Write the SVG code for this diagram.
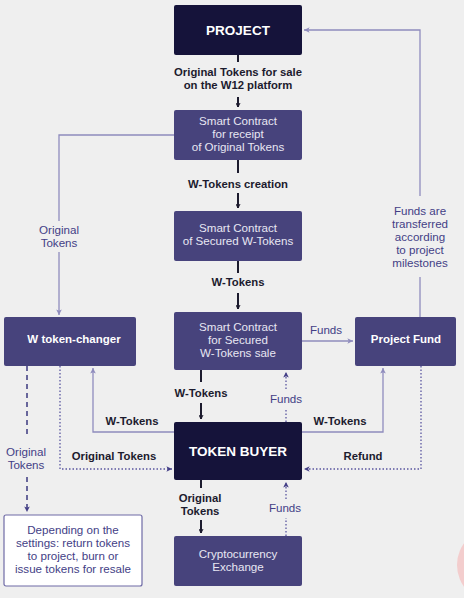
<svg xmlns="http://www.w3.org/2000/svg" width="464" height="598" viewBox="0 0 464 598">
<defs>
<style>
.bg{fill:#efefef}
.dark{fill:#15133a}
.box{fill:#47437c}
.white{fill:#ffffff;stroke:#6f6ba6;stroke-width:1.2}
text{font-family:"Liberation Sans",Arial,sans-serif;text-anchor:middle}
.tb{font-size:13.5px;font-weight:700;fill:#ffffff}
.tn{font-size:11.6px;fill:#e8e7f3}
.tnb{font-size:11.5px;font-weight:700;fill:#ffffff}
.lb{font-size:11.3px;font-weight:700;fill:#1c1b2e}
.lp{font-size:11.6px;fill:#433e86}
.cd{stroke:#1c1b2e;stroke-width:2;fill:none}
.cl{stroke:#8f8cbd;stroke-width:1.3;fill:none}
.cdot{stroke:#5a56a0;stroke-width:1.3;fill:none;stroke-dasharray:1.5 2}
.cdash{stroke:#3d3a80;stroke-width:1.5;fill:none;stroke-dasharray:5 4}
</style>
<marker id="ad" viewBox="0 0 10 10" refX="9" refY="5" markerWidth="5" markerHeight="5" orient="auto" markerUnits="userSpaceOnUse">
<path d="M1 1 L9 5 L1 9" fill="none" stroke="#1c1b2e" stroke-width="2"/>
</marker>
<marker id="al" viewBox="0 0 10 10" refX="9" refY="5" markerWidth="7" markerHeight="7" orient="auto" markerUnits="userSpaceOnUse">
<path d="M1 1 L9 5 L1 9 L3 5 Z" fill="#8f8cbd"/>
</marker>
<marker id="ap" viewBox="0 0 10 10" refX="9" refY="5" markerWidth="7" markerHeight="7" orient="auto" markerUnits="userSpaceOnUse">
<path d="M1 1 L9 5 L1 9 L3 5 Z" fill="#433e86"/>
</marker>
</defs>
<rect class="bg" x="0" y="0" width="464" height="598"/>
<circle cx="494" cy="565" r="37" fill="#f3cdcd"/>

<g id="connectors">
<path class="cd" d="M238 55 V62"/>
<path class="cd" d="M238 97 V107" marker-end="url(#ad)"/>
<path class="cd" d="M238 160 V173"/>
<path class="cd" d="M238 193 V208" marker-end="url(#ad)"/>
<path class="cd" d="M238 261 V273"/>
<path class="cd" d="M238 293 V309" marker-end="url(#ad)"/>
<path class="cd" d="M201 370 V382"/>
<path class="cd" d="M201 403 V419" marker-end="url(#ad)"/>
<path class="cd" d="M201 480 V488"/>
<path class="cd" d="M201 520 V533" marker-end="url(#ad)"/>
<path class="cl" d="M302 341 H353" marker-end="url(#al)"/>
<path class="cl" d="M174 135 H59 V221"/>
<path class="cl" d="M59 252 V315" marker-end="url(#al)"/>
<path class="cl" d="M420 317 V277"/>
<path class="cl" d="M420 196 V30 H304" marker-end="url(#al)"/>
<path class="cl" d="M174 432 H93 V368" marker-end="url(#al)"/>
<path class="cl" d="M302 432 H383 V368" marker-end="url(#al)"/>
<path class="cdot" d="M286 422 V409"/>
<path class="cdot" d="M286 389 V372" marker-end="url(#ap)"/>
<path class="cdot" d="M286 536 V518"/>
<path class="cdot" d="M286 499 V482" marker-end="url(#ap)"/>
<path class="cdot" d="M60 366 V469 H172" marker-end="url(#ap)"/>
<path class="cdot" d="M421 366 V469 H304" marker-end="url(#ap)"/>
<path class="cdash" d="M27 366 V438"/>
<path class="cdash" d="M27 477 V512" marker-end="url(#ap)"/>
</g>

<g id="labels">
<text class="lb" x="238" y="76">Original Tokens for sale<tspan x="238" dy="13">on the W12 platform</tspan></text>
<text class="lb" x="238" y="188">W-Tokens creation</text>
<text class="lb" x="238" y="286">W-Tokens</text>
<text class="lb" x="201" y="397">W-Tokens</text>
<text class="lp" x="286" y="403">Funds</text>
<text class="lp" x="326" y="334">Funds</text>
<text class="lp" x="59" y="234">Original<tspan x="59" dy="13">Tokens</tspan></text>
<text class="lp" x="420" y="215">Funds are<tspan x="420" dy="13">transferred</tspan><tspan x="420" dy="13">according</tspan><tspan x="420" dy="13">to project</tspan><tspan x="420" dy="13">milestones</tspan></text>
<text class="lb" x="132" y="425">W-Tokens</text>
<text class="lb" x="340" y="425">W-Tokens</text>
<text class="lb" x="114" y="460">Original Tokens</text>
<text class="lb" x="363" y="460">Refund</text>
<text class="lp" x="26" y="456">Original<tspan x="26" dy="13">Tokens</tspan></text>
<text class="lb" x="200" y="502">Original<tspan x="200" dy="13">Tokens</tspan></text>
<text class="lp" x="285" y="512">Funds</text>
</g>

<g id="project">
<rect class="dark" x="174" y="5" width="128" height="50" rx="2"/>
<text class="tb" x="238" y="35">PROJECT</text>
</g>
<g id="receipt">
<rect class="box" x="174" y="110" width="128" height="50" rx="2"/>
<text class="tn" x="238" y="125">Smart Contract<tspan x="238" dy="13">for receipt</tspan><tspan x="238" dy="13">of Original Tokens</tspan></text>
</g>
<g id="secured">
<rect class="box" x="174" y="211" width="128" height="50" rx="2"/>
<text class="tn" x="238" y="232">Smart Contract<tspan x="238" dy="13">of Secured W-Tokens</tspan></text>
</g>
<g id="sale">
<rect class="box" x="174" y="312" width="128" height="58" rx="2"/>
<text class="tn" x="238" y="331">Smart Contract<tspan x="238" dy="13">for Secured</tspan><tspan x="238" dy="13">W-Tokens sale</tspan></text>
</g>
<g id="changer">
<rect class="box" x="4" y="317" width="132" height="49" rx="2"/>
<text class="tnb" x="74" y="343">W token-changer</text>
</g>
<g id="fund">
<rect class="box" x="355" y="317" width="101" height="49" rx="2"/>
<text class="tnb" x="406" y="343">Project Fund</text>
</g>
<g id="buyer">
<rect class="dark" x="174" y="422" width="128" height="58" rx="2"/>
<text class="tb" x="238" y="456">TOKEN BUYER</text>
</g>
<g id="exchange">
<rect class="box" x="174" y="536" width="128" height="50" rx="2"/>
<text class="tn" x="238" y="558">Cryptocurrency<tspan x="238" dy="13">Exchange</tspan></text>
</g>
<g id="settings">
<rect class="white" x="4" y="515" width="138" height="71" rx="2"/>
<text class="lp" x="73" y="534">Depending on the<tspan x="73" dy="13">settings: return tokens</tspan><tspan x="73" dy="13">to project, burn or</tspan><tspan x="73" dy="13">issue tokens for resale</tspan></text>
</g>
</svg>
